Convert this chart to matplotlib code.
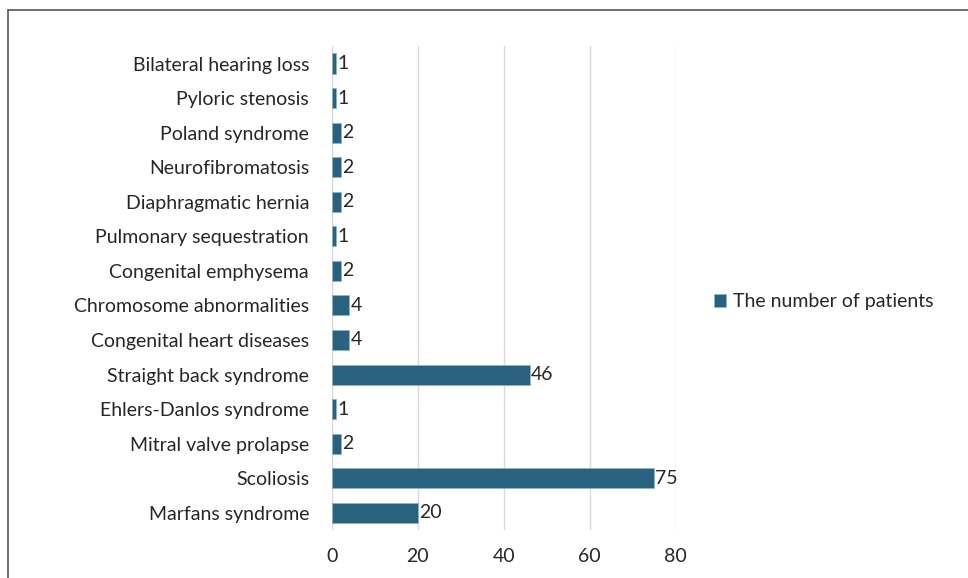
import matplotlib.pyplot as plt
from matplotlib.patches import Rectangle

# -----------------------------------
# DATA (bottom to top)
# -----------------------------------

categories = [
    "Marfans syndrome",
    "Scoliosis",
    "Mitral valve prolapse",
    "Ehlers-Danlos syndrome",
    "Straight back syndrome",
    "Congenital heart diseases",
    "Chromosome abnormalities",
    "Congenital emphysema",
    "Pulmonary sequestration",
    "Diaphragmatic hernia",
    "Neurofibromatosis",
    "Poland syndrome",
    "Pyloric stenosis",
    "Bilateral hearing loss",
]
patients = [20, 75, 2, 1, 46, 4, 4, 2, 1, 2, 2, 2, 1, 1]
x_ticks = [0, 20, 40, 60, 80]

BAR_COLOR = "#29627F"
TEXT_COLOR = "#262626"
FS = 14

plt.rcParams["font.family"] = ["Lato", "DejaVu Sans"]

fig = plt.figure(figsize=(9.68, 5.78), dpi=100)
ax = fig.add_axes([0.343, 0.083, 0.355, 0.837])

ypos = list(range(len(categories)))
bars = ax.barh(ypos, patients, height=0.58, color=BAR_COLOR,
               edgecolor="#8fb3c6", linewidth=0.6, label="The number of patients",
               zorder=3)

for y, v in zip(ypos, patients):
    ax.text(v + 0.3, y, str(v), va="center", ha="left",
            fontsize=FS, color=TEXT_COLOR)

ax.set_xlim(0, 80)
ax.set_ylim(-0.5, len(categories) - 0.5)
ax.set_yticks(ypos)
ax.set_yticklabels(categories, fontsize=FS, color=TEXT_COLOR)
ax.set_xticks(x_ticks)
ax.set_xticklabels([str(t) for t in x_ticks], fontsize=FS, color=TEXT_COLOR)
ax.tick_params(axis="both", length=0)
ax.tick_params(axis="y", pad=16.5)
ax.tick_params(axis="x", pad=13)

ax.grid(axis="x", color="#d9d9d9", linewidth=1, zorder=0)
for s in ax.spines.values():
    s.set_visible(False)

fig.legend(handles=[bars], loc="center left", bbox_to_anchor=(0.724, 0.478),
           frameon=False, fontsize=FS, handlelength=0.6, handleheight=0.6,
           handletextpad=0.35, labelcolor=TEXT_COLOR, borderpad=0.2)

# outer frame, open at right/bottom edges of the image
fig.patches.append(Rectangle((8 / 968, -0.1), 1.2, 1 - 10 / 578 + 0.1,
                             transform=fig.transFigure, fill=False,
                             edgecolor="#555555", linewidth=1.2))

fig.savefig("out.png", dpi=100)
plt.close()
